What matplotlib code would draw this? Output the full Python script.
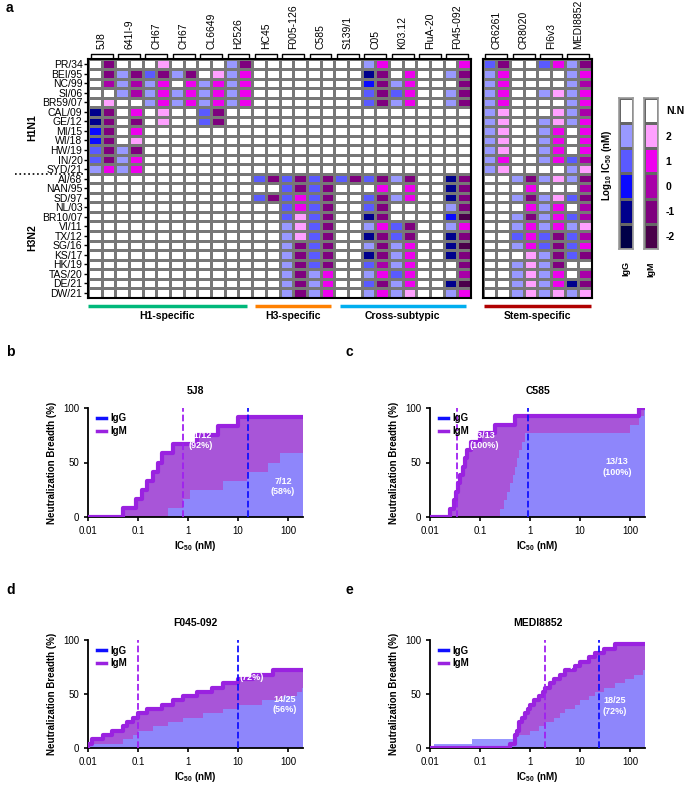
import numpy as np
import matplotlib
matplotlib.use("Agg")
import matplotlib.pyplot as plt
from matplotlib.colors import ListedColormap
from matplotlib.transforms import blended_transform_factory

plt.rcParams['font.family'] = ['Liberation Sans', 'DejaVu Sans']
plt.rcParams['mathtext.default'] = 'regular'

# ---- heatmap data: one code per cell, 0 = N.N, 1..5 = log10 IC50 2..-2
# each antibody is a pair: IgG digit then IgM digit
strains = ['PR/34', 'BEI/95', 'NC/99', 'SI/06', 'BR59/07', 'CAL/09', 'GE/12', 'MI/15',
           'WI/18', 'HW/19', 'IN/20', 'SYD/21', 'AI/68', 'NAN/95', 'SD/97', 'NL/03',
           'BR10/07', 'VI/11', 'TX/12', 'SG/16', 'KS/17', 'HK/19', 'TAS/20', 'DE/21', 'DW/21']
abs_left = ['5J8', '641I-9', 'CH67', 'CH67', 'CL6649', 'H2526', 'HC45', 'F005-126', 'C585',
            'S139/1', 'C05', 'K03.12', 'FluA-20', 'F045-092']
abs_right = ['CR6261', 'CR8020', 'FI6v3', 'MEDI8852']

codes = [
    "04 00 01 00 00 14 00 00 00 00 12 00 00 02 24 00 22 14",
    "04 14 24 14 01 12 00 00 00 00 44 02 00 14 12 00 00 12",
    "03 13 12 02 12 12 00 00 00 00 34 12 00 04 12 00 00 13",
    "00 13 12 12 12 12 00 00 00 00 24 22 00 14 12 00 11 12",
    "01 00 12 12 12 12 00 00 00 00 24 12 00 14 12 00 00 12",
    "44 02 01 00 24 00 00 00 00 00 00 00 00 00 11 00 01 13",
    "44 04 01 00 24 00 00 00 00 00 00 00 00 00 11 00 11 12",
    "34 02 00 00 00 00 00 00 00 00 00 00 00 00 11 00 12 02",
    "34 01 00 00 00 00 00 00 00 00 00 00 00 00 11 00 12 02",
    "24 14 00 00 00 00 00 00 00 00 00 00 00 00 11 00 12 02",
    "24 12 00 00 00 00 00 00 00 00 00 00 00 00 12 00 12 23",
    "12 12 00 00 00 00 00 00 00 00 00 00 00 00 11 00 00 11",
    "00 00 00 00 00 00 24 24 24 24 24 14 00 44 00 14 11 14",
    "00 00 00 00 00 00 00 24 24 00 02 02 00 44 00 02 00 03",
    "00 00 00 00 00 00 24 22 24 00 24 12 00 44 00 14 11 24",
    "00 00 00 00 00 00 00 22 24 00 24 00 00 14 00 02 12 03",
    "00 00 00 00 00 00 00 21 24 00 44 00 00 35 00 14 12 23",
    "00 00 00 00 00 00 00 11 24 00 12 24 00 12 00 12 12 11",
    "00 00 00 00 00 00 00 11 24 00 44 24 00 44 00 22 24 23",
    "00 00 00 00 00 00 00 14 24 00 14 12 00 45 00 12 24 22",
    "00 00 00 00 00 00 00 14 24 00 44 12 00 44 00 01 14 24",
    "00 00 00 00 00 00 00 14 24 00 23 12 00 04 00 11 14 00",
    "00 00 00 00 00 00 00 14 12 00 12 22 00 03 00 11 12 03",
    "00 00 00 00 00 00 00 14 12 00 24 12 00 45 00 11 12 44",
    "00 00 00 00 00 00 00 14 12 00 12 11 00 12 00 11 11 11",
]
cb_labels = ['N.N', '2', '1', '0', '-1', '-2']

n_5j8 = 12
g_5j8 = [0.4, 0.8, 1.1, 5, 15, 40, 70]
m_5j8 = [0.05, 0.09, 0.12, 0.15, 0.2, 0.25, 0.3, 0.5, 1.5, 4, 10]
gm_5j8 = (16, 0.8)

n_c585 = 13
g_c585 = [0.25, 0.3, 0.35, 0.4, 0.45, 0.5, 0.55, 0.6, 0.7, 0.8, 100, 150, 190]
m_c585 = [0.025, 0.03, 0.033, 0.036, 0.04, 0.045, 0.05, 0.055, 0.065, 0.1, 0.2, 0.5, 150]
gm_c585 = (0.9, 0.035)

n_f045 = 25
g_f045 = [0.01, 0.05, 0.08, 0.1, 0.2, 0.4, 0.8, 2, 5, 10, 30, 80, 150, 190]
m_f045 = [0.01, 0.012, 0.02, 0.03, 0.05, 0.06, 0.08, 0.1, 0.15, 0.3, 0.5, 0.8, 1.5, 3, 5,
          10, 20, 50]
gm_f045 = (10, 0.1)

n_medi = 25
g_medi = [0.012, 0.07, 0.5, 1, 1.5, 2, 3, 4, 5, 8, 10, 15, 20, 30, 50, 80, 120, 180]
m_medi = [0.4, 0.5, 0.5, 0.55, 0.6, 0.6, 0.7, 0.8, 0.9, 1, 1.2, 1.5, 1.8, 2, 2.5, 3, 4, 5,
          8, 10, 15, 20, 30, 50]
gm_medi = (24, 2)

igg_cols = ['#ffffff', '#9999ff', '#5a5aff', '#0a0aff', '#00008c', '#000048']
igm_cols = ['#ffffff', '#ffa0ff', '#ee00ee', '#a800a8', '#7e007e', '#4a004a']
cmap_g = ListedColormap(igg_cols)
cmap_m = ListedColormap(igm_cols)

W, H = 685, 785
fig = plt.figure(figsize=(W / 100, H / 100), dpi=100)


def px_axes(x0, y0, x1, y1):
    # axes from pixel box (top-left origin)
    return fig.add_axes([x0 / W, 1 - y1 / H, (x1 - x0) / W, (y1 - y0) / H])


mat = np.array([[int(c) for c in r.replace(' ', '')] for r in codes])
nrow = len(strains)


def heat(ax, sub, names):
    ncol = sub.shape[1]
    gmat = np.ma.masked_array(sub, mask=np.zeros_like(sub, bool))
    gmat.mask[:, 1::2] = True
    mmat = np.ma.masked_array(sub, mask=np.zeros_like(sub, bool))
    mmat.mask[:, 0::2] = True
    xe = np.arange(ncol + 1)
    ye = np.arange(nrow + 1)
    ax.pcolormesh(xe, ye, gmat, cmap=cmap_g, vmin=-0.5, vmax=5.5, edgecolors='#777777', linewidth=1.0)
    ax.pcolormesh(xe, ye, mmat, cmap=cmap_m, vmin=-0.5, vmax=5.5, edgecolors='#777777', linewidth=1.0)
    ax.set_xlim(0, ncol)
    ax.set_ylim(nrow, 0)
    ax.set_xticks([])
    for s in ax.spines.values():
        s.set_linewidth(1.5)
    tr = blended_transform_factory(ax.transData, ax.transAxes)
    for k, nm in enumerate(names):
        ax.plot([2 * k + 0.2, 2 * k + 0.2, 2 * k + 1.8, 2 * k + 1.8], [1.006, 1.024, 1.024, 1.006],
                color='black', lw=1.0, transform=tr, clip_on=False)
        ax.text(2 * k + 1, 1.042, nm, rotation=90, ha='center', va='bottom', fontsize=7.5,
                transform=tr)


ax_l = px_axes(88, 59.5, 471, 297.7)
heat(ax_l, mat[:, :28], abs_left)
ax_l.set_yticks(np.arange(nrow) + 0.5)
ax_l.set_yticklabels(strains, fontsize=7.5)
ax_l.tick_params(axis='y', length=3, width=1, pad=1)

ax_r = px_axes(482.7, 59.5, 592, 297.7)
heat(ax_r, mat[:, 28:], abs_right)
ax_r.set_yticks([])

# group labels and separator
fig.text(32 / W, 1 - 128 / H, 'H1N1', rotation=90, ha='center', va='center', fontsize=7.5, fontweight='bold')
fig.text(32 / W, 1 - 238 / H, 'H3N2', rotation=90, ha='center', va='center', fontsize=7.5, fontweight='bold')
tr_l = blended_transform_factory(ax_l.transAxes, ax_l.transData)
ax_l.plot([-0.19, -0.01], [12, 12], color='black', lw=1.2, ls=':', transform=tr_l, clip_on=False,
          zorder=0)

# specificity bars under heatmap
trb = blended_transform_factory(ax_l.transData, ax_l.transAxes)
groups = [(0, 11.6, '#00b87a', 'H1-specific'), (12.2, 17.8, '#ff8000', 'H3-specific'),
          (18.4, 27.6, '#00aeef', 'Cross-subtypic')]
for a, b, c, lab in groups:
    ax_l.plot([a, b], [-0.035, -0.035], color=c, lw=2.5, transform=trb, clip_on=False, solid_capstyle='butt')
    ax_l.text((a + b) / 2, -0.075, lab, ha='center', va='center', fontsize=7.5, fontweight='bold',
              transform=trb)
trr = blended_transform_factory(ax_r.transData, ax_r.transAxes)
ax_r.plot([0.1, 7.9], [-0.035, -0.035], color='#b00000', lw=2.5, transform=trr, clip_on=False, solid_capstyle='butt')
ax_r.text(4, -0.075, 'Stem-specific', ha='center', va='center', fontsize=7.5, fontweight='bold', transform=trr)

# colour keys
levels = np.arange(len(cb_labels)).reshape(-1, 1)
for x0, cm, lab in [(619, cmap_g, 'IgG'), (644, cmap_m, 'IgM')]:
    cax = px_axes(x0, 97.7, x0 + 13.5, 249)
    cax.pcolormesh([0, 1], np.arange(len(cb_labels) + 1), levels, cmap=cm, vmin=-0.5, vmax=5.5,
                   edgecolors='#666666', linewidth=0.8)
    cax.set_ylim(len(cb_labels), 0)
    cax.set_xlim(0, 1)
    cax.set_xticks([])
    cax.set_yticks([])
    for s in cax.spines.values():
        s.set_color('#999999')
        s.set_linewidth(1.2)
    cax.text(0.5, -0.08, lab, rotation=90, ha='center', va='top', fontsize=6.5, fontweight='bold',
             transform=cax.transAxes)
cax.yaxis.tick_right()
cax.set_yticks(np.arange(len(cb_labels)) + 0.5)
cax.set_yticklabels(cb_labels, fontsize=7.5, fontweight='bold')
cax.tick_params(axis='y', length=0, pad=6)
fig.text(607 / W, 1 - 165 / H, 'Log$_{10}$ IC$_{50}$ (nM)', rotation=90, ha='center', va='center',
         fontsize=7, fontweight='bold')


# ---- breadth panels
def breadth(ax, title, n, g, m, gm, tpos_m, tpos_g):
    xs_g = [0.01] + sorted(g) + [200]
    ys_g = [0] + [100 * (i + 1) / n for i in range(len(g))] + [100 * len(g) / n]
    xs_m = [0.01] + sorted(m) + [200]
    ys_m = [0] + [100 * (i + 1) / n for i in range(len(m))] + [100 * len(m) / n]
    ax.fill_between(xs_m, ys_m, step='post', color='#a855d8', lw=0)
    ax.fill_between(xs_g, ys_g, step='post', color='#8c8cff', alpha=0.9, lw=0)
    ax.step(xs_m, ys_m, where='post', color='#9a22e0', lw=3, zorder=3)
    ax.axvline(gm[0], color='#1010ff', ls='--', lw=1.3, zorder=4)
    ax.axvline(gm[1], color='#a020f0', ls='--', lw=1.3, zorder=4)
    ax.text(tpos_m[0], tpos_m[1], '%d/%d\n(%d%%)' % (len(m), n, round(100 * len(m) / n)),
            color='white', fontsize=6.5, fontweight='bold', ha='center', va='center', zorder=5)
    ax.text(tpos_g[0], tpos_g[1], '%d/%d\n(%d%%)' % (len(g), n, round(100 * len(g) / n)),
            color='white', fontsize=6.5, fontweight='bold', ha='center', va='center', zorder=5)
    ax.set_xscale('log')
    ax.set_xlim(0.01, 200)
    ax.set_ylim(0, 100)
    ax.set_xticks([0.01, 0.1, 1, 10, 100])
    ax.set_xticklabels(['0.01', '0.1', '1', '10', '100'])
    ax.minorticks_off()
    ax.set_yticks([0, 50, 100])
    ax.tick_params(labelsize=7, width=1.2, length=3)
    for s in ['top', 'right']:
        ax.spines[s].set_visible(False)
    for s in ['left', 'bottom']:
        ax.spines[s].set_linewidth(1.3)
    ax.set_ylabel('Neutralization Breadth (%)', fontsize=7, fontweight='bold')
    ax.set_xlabel('IC$_{50}$ (nM)', fontsize=7, fontweight='bold', labelpad=2)
    ax.text(0.5, 1.16, title, transform=ax.transAxes, ha='center', va='center', fontsize=7.5,
            fontweight='bold')
    ax.plot([], [], color='#1010ff', lw=2.5, label='IgG')
    ax.plot([], [], color='#9a22e0', lw=2.5, label='IgM')
    ax.legend(loc='upper left', bbox_to_anchor=(0.0, 1.03), frameon=False,
              prop={'weight': 'bold', 'size': 7}, handlelength=1.0, handletextpad=0.4,
              labelspacing=0.3)


ax_b = px_axes(88, 408, 303, 517)
breadth(ax_b, '5J8', n_5j8, g_5j8, m_5j8, gm_5j8, (1.8, 70), (80, 28))
ax_c = px_axes(430, 408, 645, 517)
breadth(ax_c, 'C585', n_c585, g_c585, m_c585, gm_c585, (0.12, 70), (55, 46))
ax_d = px_axes(88, 640, 303, 748)
breadth(ax_d, 'F045-092', n_f045, g_f045, m_f045, gm_f045, (19, 70), (85, 40))
ax_e = px_axes(430, 640, 645, 748)
breadth(ax_e, 'MEDI8852', n_medi, g_medi, m_medi, gm_medi, (4.4, 82), (50, 39))

for lab, x, y in [('a', 6, 8), ('b', 6, 352), ('c', 346, 352), ('d', 6, 590), ('e', 346, 590)]:
    fig.text(x / W, 1 - y / H, lab, fontsize=10, fontweight='bold', ha='left', va='center')

fig.savefig('out.png', dpi=100)
